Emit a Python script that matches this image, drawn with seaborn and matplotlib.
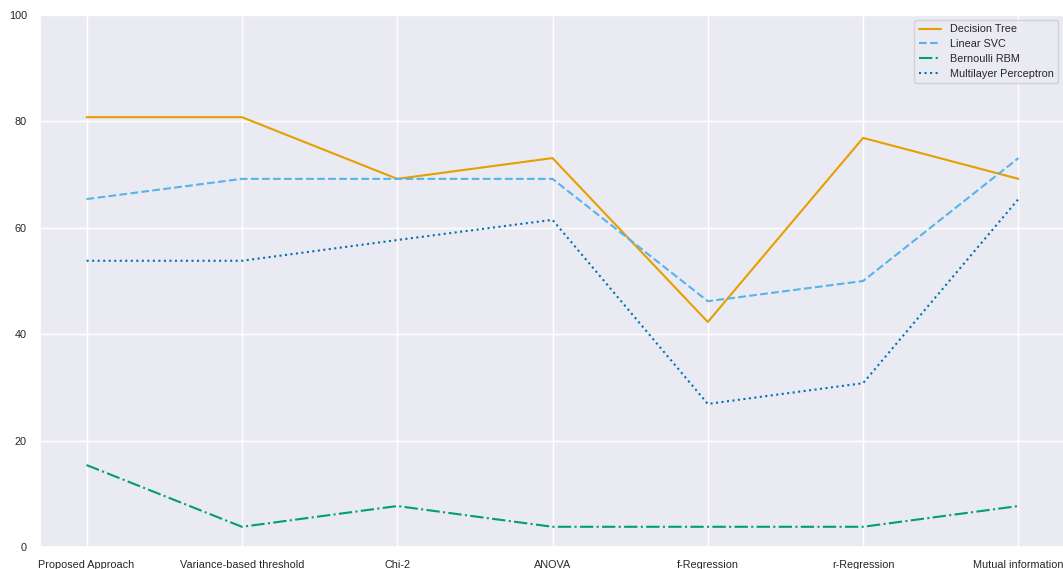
import matplotlib
matplotlib.use("Agg")
import matplotlib.pyplot as plt
import seaborn as sns
import pandas as pd

methods = ["Proposed Approach", "Variance-based threshold", "Chi-2", "ANOVA",
           "f-Regression", "r-Regression", "Mutual information"]
decision_tree = [80.8, 80.8, 69.2, 73.1, 42.3, 76.9, 69.2]
linear_svc = [65.4, 69.2, 69.2, 69.2, 46.2, 50.0, 73.1]
bernoulli_rbm = [15.4, 3.8, 7.7, 3.8, 3.8, 3.8, 7.7]
mlp = [53.8, 53.8, 57.7, 61.5, 26.9, 30.8, 65.4]

series_names = ["Decision Tree", "Linear SVC", "Bernoulli RBM", "Multilayer Perceptron"]

df = pd.DataFrame({
    "Decision Tree": decision_tree,
    "Linear SVC": linear_svc,
    "Bernoulli RBM": bernoulli_rbm,
    "Multilayer Perceptron": mlp,
}, index=methods)

sns.set_theme(style="darkgrid")
plt.rcParams["font.family"] = ["Liberation Sans", "DejaVu Sans"]

fig = plt.figure(figsize=(10.63, 5.69), dpi=100)
W, H = 1063, 569
ax = fig.add_axes([40 / W, (H - 547) / H, (1065 - 40) / W, (547 - 15) / H])

palette = ["#E69F00", "#56B4E9", "#009E73", "#0072B2"]
styles = ["-", "--", "-.", ":"]
x = list(range(len(methods)))
for name, color, ls in zip(series_names, palette, styles):
    sns.lineplot(x=x, y=df[name].values, ax=ax, color=color, linestyle=ls,
                 linewidth=1.5, label=name)

ax.set_xticks(x)
ax.set_xticklabels(methods, fontsize=7.8)
ax.set_xlim(-0.3, 6.3)
ax.set_ylim(0, 100)
ax.set_yticks([0, 20, 40, 60, 80, 100])
ax.tick_params(axis="y", labelsize=7.8)
ax.tick_params(axis="both", pad=3.5)
ax.legend(loc="upper right", fontsize=7.8, bbox_to_anchor=(0.993, 0.9906),
          borderaxespad=0, handlelength=2.1, handletextpad=0.75,
          borderpad=0.4, labelspacing=0.45)

fig.savefig("out.png", dpi=100)
